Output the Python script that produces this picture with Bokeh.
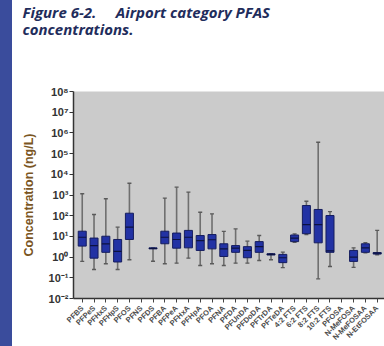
import math

from bokeh.plotting import figure
from bokeh.layouts import row, column
from bokeh.models import Range1d, FixedTicker, ColumnDataSource, Div
from bokeh.transform import dodge
from bokeh.core.properties import value
from bokeh.embed import file_html
from bokeh.resources import INLINE

# PFAS compounds measured at airport sites (None = no detections to plot)
compounds = [
    "PFBS", "PFPeS", "PFHxS", "PFHpS", "PFOS", "PFNS", "PFDS",
    "PFBA", "PFPeA", "PFHxA", "PFHpA", "PFOA", "PFNA", "PFDA",
    "PFUnDA", "PFDoDA", "PFTrDA", "PFTeDA", "4:2 FTS", "6:2 FTS",
    "8:2 FTS", "10:2 FTS", "PFOSA", "N-MeFOSA", "N-MeFOSAA", "N-EtFOSAA",
]

# Box-plot statistics, ng/L
whisker_low = [0.62, 0.25, 0.48, 0.25, 0.74, None, 0.63, 0.48, 0.51, 0.89, 0.39, 0.48, 0.39,
               0.51, 0.51, 0.69, 0.74, 0.31, 5.2, 12.3, 0.089, 0.35, None, 0.32, 1.6, 1.3]
q1 = [3.4, 0.89, 1.7, 0.58, 7.1, None, 2.5, 4.4, 2.7, 2.8, 2.1, 2.5, 1.07,
      1.7, 0.93, 1.7, 1.26, 0.54, 5.6, 13.5, 4.9, 1.7, None, 0.62, 1.7, 1.4]
median = [9.1, 3.6, 4.4, 1.9, 28, None, 2.6, 9.1, 7.1, 9.1, 6.3, 6.9, 2.5,
          2.7, 2.1, 3.2, 1.35, 0.93, 8.3, 37, 37, 2.0, None, 1.0, 2.8, 1.55]
q3 = [17.8, 8.3, 10.2, 7.1, 132, None, 2.8, 17.8, 14.5, 19.5, 11, 12.3, 4.4,
      3.6, 3.2, 5.6, 1.45, 1.35, 11.7, 310, 200, 102, None, 2.1, 4.4, 1.65]
whisker_high = [1150, 115, 660, 28, 3700, None, 2.8, 710, 2400, 1380, 148, 123, 17.4,
                23, 5.9, 11, 1.45, 1.74, 13.2, 500, 355000, 158, None, 2.8, 5.0, 19.5]

y_ticks = [1e-2, 1e-1, 1e0, 1e1, 1e2, 1e3, 1e4, 1e5, 1e6, 1e7, 1e8]
y_tick_labels = ["10\u207b\u00b2", "10\u207b\u00b9", "10\u2070", "10\u00b9", "10\u00b2",
                 "10\u00b3", "10\u2074", "10\u2075", "10\u2076", "10\u2077", "10\u2078"]

caption_lines = ["Figure 6-2.\u00a0\u00a0\u00a0\u00a0\u00a0Airport category PFAS",
                 "concentrations."]

rows = [i for i in range(len(compounds)) if median[i] is not None]
src = ColumnDataSource(data=dict(
    x=rows,
    lo=[whisker_low[i] for i in rows],
    q1=[q1[i] for i in rows],
    med=[median[i] for i in rows],
    q3=[q3[i] for i in rows],
    hi=[whisker_high[i] for i in rows],
))

# layout geometry (pixels)
BAND_W = 12
PLOT_W = 384 - BAND_W
LEFT = 61
CAP_H = 83
TOP = 8
AXIS_H = 6
MAIN_H = 298 + AXIS_H - CAP_H
LABEL_H = 346 - CAP_H - MAIN_H
BAND_COLOR = "#3a4c9c"

X_START, X_END = -0.74, 25.62
px_per_unit = (PLOT_W - LEFT) / (X_END - X_START)

# ---- caption strip -------------------------------------------------------
cap = figure(
    width=PLOT_W, height=CAP_H, title=None,
    x_range=Range1d(0, PLOT_W), y_range=Range1d(CAP_H, 0),
    output_backend="svg", toolbar_location=None,
    x_axis_location=None, y_axis_location=None,
    min_border=0, outline_line_color=None, margin=(0, 0, 0, 0),
)
cap.grid.visible = False
cap.text(x=[10, 10], y=[11, 28.5], text=caption_lines,
         text_align="left", text_baseline="middle",
         text_font=value("Open Sans"), text_font_style="bold italic",
         text_font_size="15px", text_color="#1f2d5c")

# ---- box plot ------------------------------------------------------------
p = figure(
    width=PLOT_W, height=MAIN_H,
    title=None,
    y_axis_type="log",
    x_range=Range1d(X_START, X_END),
    y_range=Range1d(1e-2, 1e8),
    output_backend="svg", toolbar_location=None,
    min_border_left=LEFT, min_border_right=0, min_border_top=TOP, min_border_bottom=AXIS_H,
    background_fill_color="#cbcbcb", border_fill_color="white",
    outline_line_color=None, margin=(0, 0, 0, 0),
)
p.grid.visible = False

# whiskers and caps
p.segment(x0="x", y0="lo", x1="x", y1="hi", source=src, line_color="#6f6f6f", line_width=1.6)
for col in ("lo", "hi"):
    p.segment(x0=dodge("x", -0.17), y0=col, x1=dodge("x", 0.17), y1=col, source=src,
              line_color="#5a5a5a", line_width=1.4)

# boxes and medians
p.vbar(x="x", width=0.68, bottom="q1", top="q3", source=src,
       fill_color="#2232a4", line_color="#151d5e", line_width=1)
p.segment(x0=dodge("x", -0.34), y0="med", x1=dodge("x", 0.34), y1="med", source=src,
          line_color="#0c1240", line_width=1.2)

# x axis: line and ticks here, compound names drawn underneath
p.xaxis.ticker = FixedTicker(ticks=list(range(len(compounds))))
p.xaxis.major_label_overrides = {i: "" for i in range(len(compounds))}
p.xaxis.major_label_text_font_size = "1px"
p.xaxis.major_label_standoff = 0
p.xaxis.major_tick_out = 4
p.xaxis.major_tick_in = 0
p.xaxis.minor_tick_out = 0
p.xaxis.axis_line_color = "#333333"
p.xaxis.axis_line_width = 1.5
p.xaxis.major_tick_line_color = "#444444"

# y axis
p.yaxis.ticker = FixedTicker(ticks=y_ticks, minor_ticks=[])
p.yaxis.major_label_overrides = dict(zip(y_ticks, y_tick_labels))
p.yaxis.major_label_text_font = "Liberation Sans"
p.yaxis.major_label_text_font_size = "11px"
p.yaxis.major_label_text_font_style = "bold"
p.yaxis.major_label_text_color = "#333333"
p.yaxis.major_label_standoff = 1
p.yaxis.major_tick_out = 4
p.yaxis.major_tick_in = 0
p.yaxis.axis_line_color = "#333333"
p.yaxis.axis_line_width = 1.5
p.yaxis.major_tick_line_color = "#333333"
p.yaxis.axis_label = "Concentration (ng/L)"
p.yaxis.axis_label_text_font = "Liberation Sans"
p.yaxis.axis_label_text_font_size = "12.5px"
p.yaxis.axis_label_text_font_style = "bold"
p.yaxis.axis_label_text_color = "#7a5522"
p.yaxis.axis_label_standoff = 10

# ---- compound names, rotated; x range spans the whole strip so that the
# names line up with the ticks above
lab = figure(
    width=PLOT_W, height=LABEL_H,
    title=None,
    x_range=Range1d(X_START - LEFT / px_per_unit, X_END),
    y_range=Range1d(LABEL_H, 0),
    output_backend="svg", toolbar_location=None,
    x_axis_location=None, y_axis_location=None,
    min_border=0, outline_line_color=None, margin=(0, 0, 0, 0),
)
lab.grid.visible = False
lab.text(x=list(range(len(compounds))), y=[2.5] * len(compounds), text=compounds,
         angle=math.pi / 4, text_align="right", text_baseline="middle",
         text_font=value("Liberation Sans"), text_font_size="7.5px",
         text_font_style="bold", text_color="#4d4d4d")


def band(height):
    return Div(width=BAND_W, height=height, margin=(0, 0, 0, 0),
               styles={"background-color": BAND_COLOR})


layout = column(
    row(band(CAP_H), cap, spacing=0),
    row(band(MAIN_H), p, spacing=0),
    row(band(LABEL_H), lab, spacing=0),
    spacing=0,
)

open("out.html", "w").write(file_html(layout, INLINE))
